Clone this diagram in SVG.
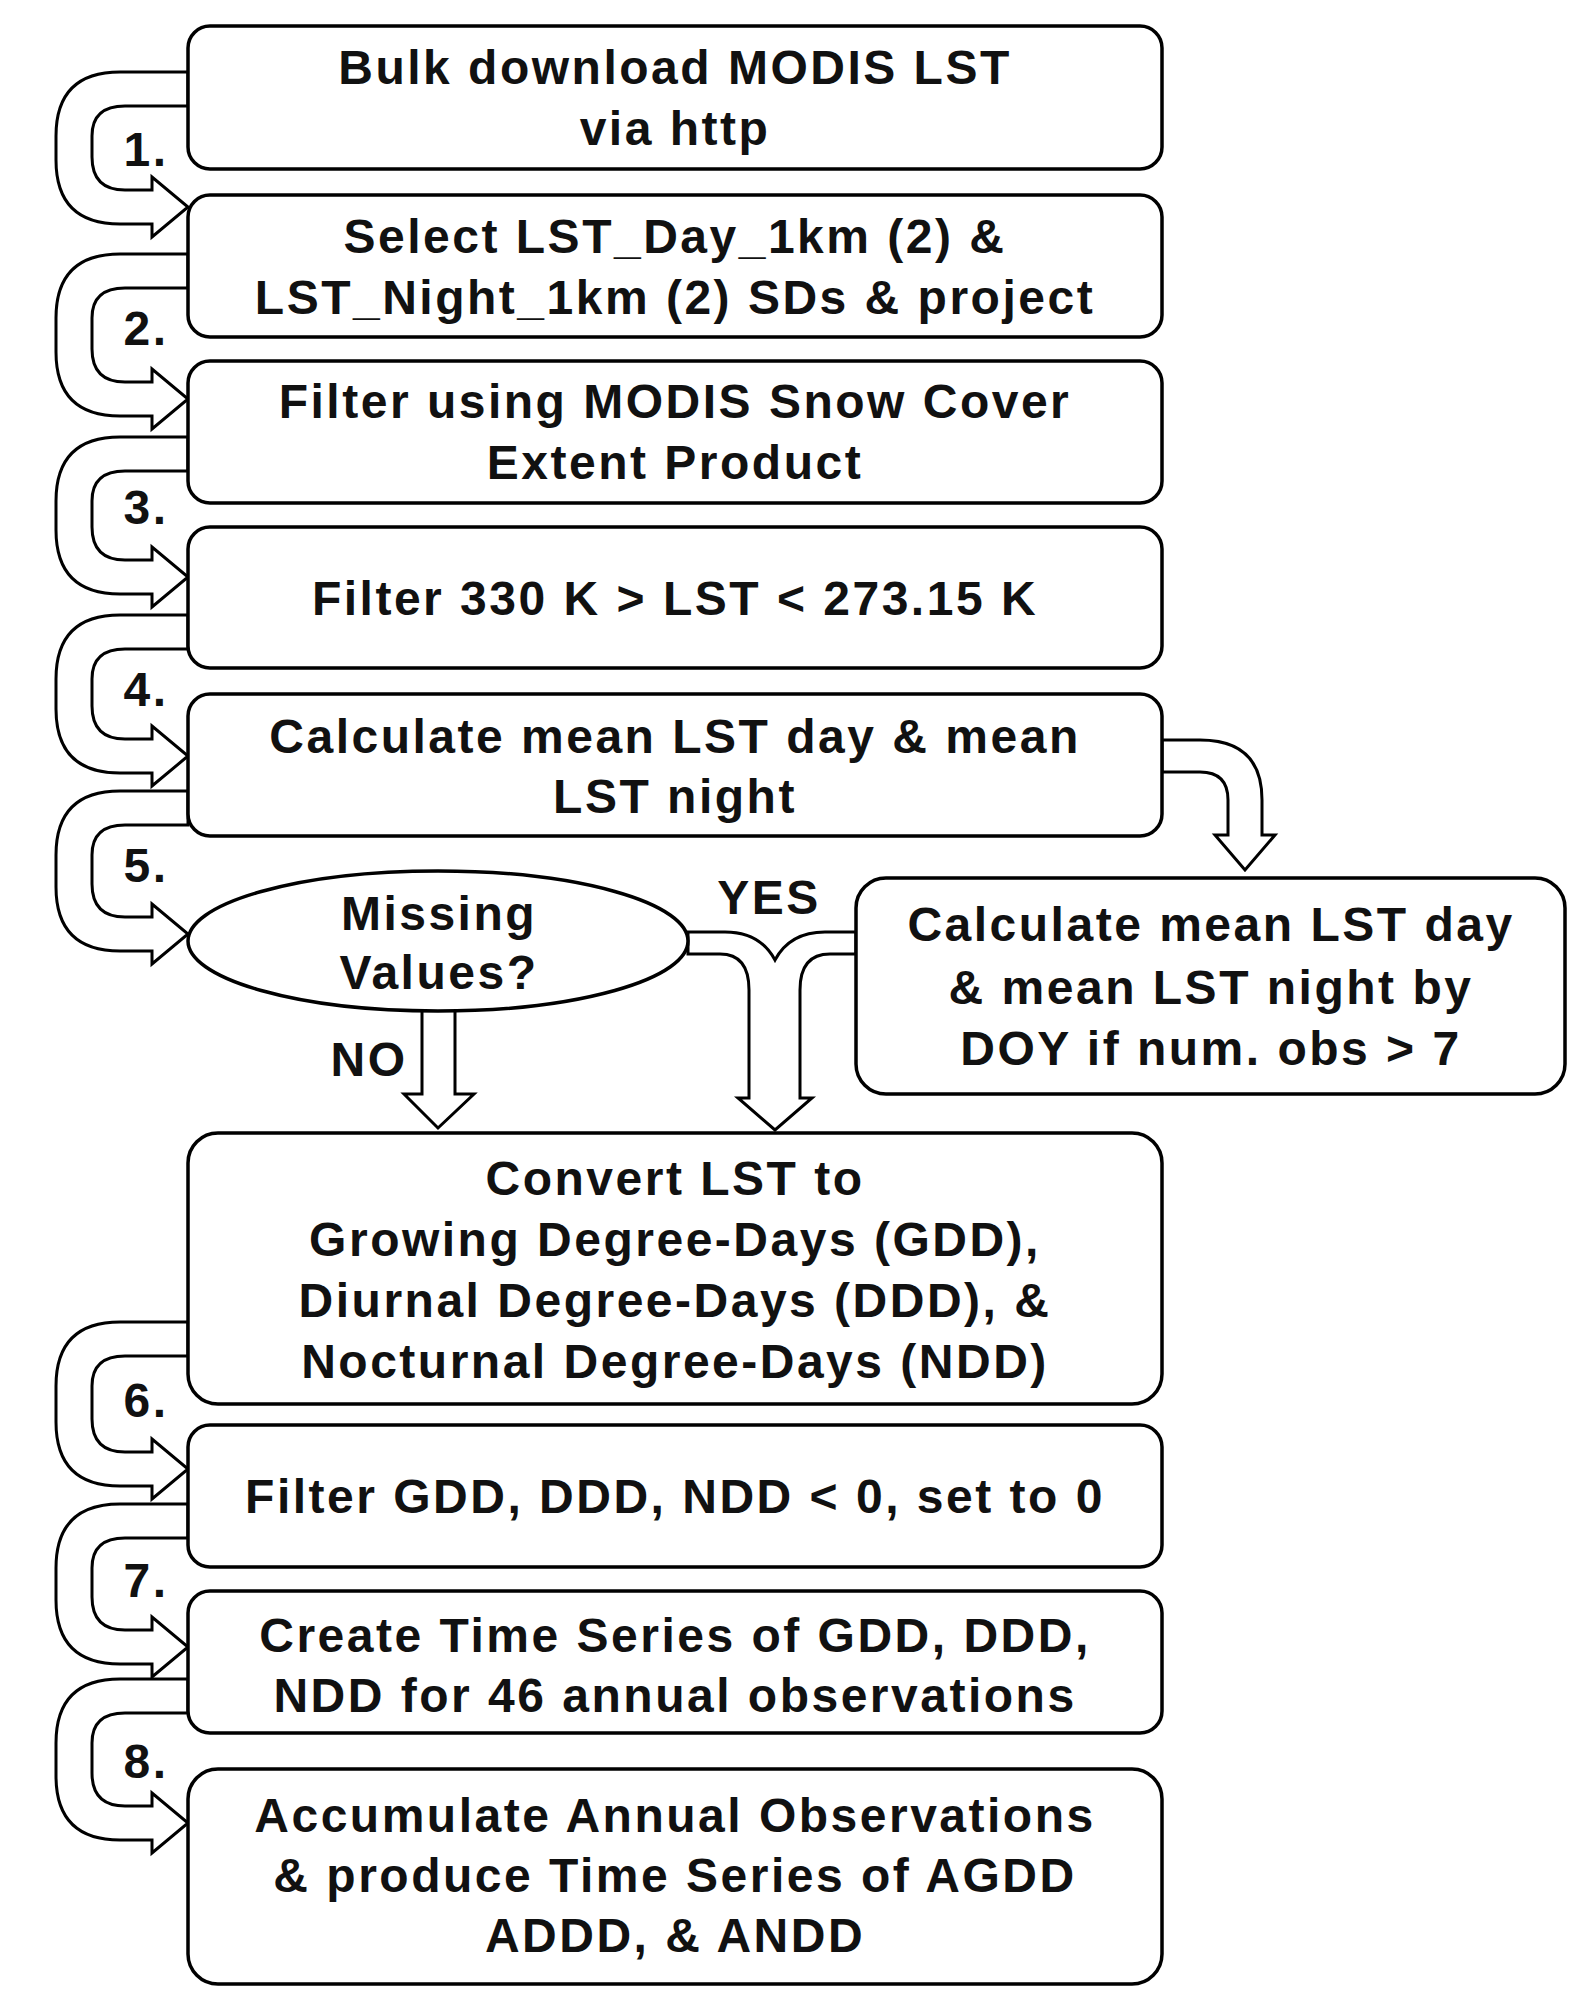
<svg xmlns="http://www.w3.org/2000/svg" width="1588" height="2010" viewBox="0 0 1588 2010">
<style>
.b{fill:#fff;stroke:#000;stroke-width:3.5}
.a{fill:#fff;stroke:#000;stroke-width:3;stroke-linejoin:miter}
text{font-family:"Liberation Sans",Arial,sans-serif;font-weight:bold;font-size:48px;letter-spacing:2.5px;text-anchor:middle;fill:#111}
</style>
<rect width="1588" height="2010" fill="#fff"/>
<g id="connectors">
<path class="a" d="M188,72 L120,72 Q56,72 56,136 L56,160 Q56,224 120,224 L152,224 L152,237 L188,207 L152,177 L152,190 L125,190 Q92,190 92,157 L92,136 Q92,106 125,106 L188,106 Z"/>
<path class="a" d="M188,254 L120,254 Q56,254 56,318 L56,352 Q56,416 120,416 L152,416 L152,429 L188,399 L152,369 L152,382 L125,382 Q92,382 92,349 L92,318 Q92,288 125,288 L188,288 Z"/>
<path class="a" d="M188,437 L120,437 Q56,437 56,501 L56,530 Q56,594 120,594 L152,594 L152,607 L188,577 L152,547 L152,560 L125,560 Q92,560 92,527 L92,501 Q92,471 125,471 L188,471 Z"/>
<path class="a" d="M188,615 L120,615 Q56,615 56,679 L56,709 Q56,773 120,773 L152,773 L152,786 L188,756 L152,726 L152,739 L125,739 Q92,739 92,706 L92,679 Q92,649 125,649 L188,649 Z"/>
<path class="a" d="M188,791 L120,791 Q56,791 56,855 L56,887 Q56,951 120,951 L152,951 L152,964 L188,934 L152,904 L152,917 L125,917 Q92,917 92,884 L92,855 Q92,825 125,825 L188,825 Z"/>
<path class="a" d="M188,1322 L120,1322 Q56,1322 56,1386 L56,1422 Q56,1486 120,1486 L152,1486 L152,1499 L188,1469 L152,1439 L152,1452 L125,1452 Q92,1452 92,1419 L92,1386 Q92,1356 125,1356 L188,1356 Z"/>
<path class="a" d="M188,1504 L120,1504 Q56,1504 56,1568 L56,1600 Q56,1664 120,1664 L152,1664 L152,1677 L188,1647 L152,1617 L152,1630 L125,1630 Q92,1630 92,1597 L92,1568 Q92,1538 125,1538 L188,1538 Z"/>
<path class="a" d="M188,1679 L120,1679 Q56,1679 56,1743 L56,1776 Q56,1840 120,1840 L152,1840 L152,1853 L188,1823 L152,1793 L152,1806 L125,1806 Q92,1806 92,1773 L92,1743 Q92,1713 125,1713 L188,1713 Z"/>
<path class="a" d="M1162,740 L1200,740 Q1262,740 1262,800 L1262,835 L1275,835 L1245,870 L1215,835 L1228,835 L1228,800 Q1228,772 1200,772 L1162,772 Z"/>
<path class="a" d="M688,932 L725,932 Q760,932 775,960 Q790,932 825,932 L856,932 L856,954 L830,954 Q800,954 800,990 L800,1098 L812,1098 L775,1130 L738,1098 L749,1098 L749,990 Q749,954 720,954 L688,954 Z"/>
<path class="a" d="M422,1008 L455,1008 L455,1094 L474,1094 L438,1128 L404,1094 L422,1094 Z"/>
</g>
<g id="n1"><rect class="b" x="188" y="26" width="974" height="143" rx="22"/><text x="675" y="84">Bulk download MODIS LST</text><text x="675" y="145">via http</text></g>
<g id="n2"><rect class="b" x="188" y="195" width="974" height="142" rx="22"/><text x="675" y="253">Select LST_Day_1km (2) &amp;</text><text x="675" y="314">LST_Night_1km (2) SDs &amp; project</text></g>
<g id="n3"><rect class="b" x="188" y="361" width="974" height="142" rx="22"/><text x="675" y="418">Filter using MODIS Snow Cover</text><text x="675" y="479">Extent Product</text></g>
<g id="n4"><rect class="b" x="188" y="527" width="974" height="141" rx="22"/><text x="675" y="615">Filter 330 K &gt; LST &lt; 273.15 K</text></g>
<g id="n5"><rect class="b" x="188" y="694" width="974" height="142" rx="22"/><text x="675" y="753">Calculate mean LST day &amp; mean</text><text x="675" y="813">LST night</text></g>
<g id="n6"><ellipse class="b" cx="438" cy="941" rx="250" ry="70"/><text x="439" y="930">Missing</text><text x="439" y="989">Values?</text></g>
<g id="n7"><rect class="b" x="856" y="878" width="709" height="216" rx="30"/><text x="1211" y="941">Calculate mean LST day</text><text x="1211" y="1004">&amp; mean LST night  by</text><text x="1211" y="1065">DOY if  num. obs &gt; 7</text></g>
<g id="n8"><rect class="b" x="188" y="1133" width="974" height="271" rx="30"/><text x="675" y="1195">Convert LST to</text><text x="675" y="1256">Growing Degree-Days (GDD),</text><text x="675" y="1317">Diurnal Degree-Days (DDD), &amp;</text><text x="675" y="1378">Nocturnal Degree-Days (NDD)</text></g>
<g id="n9"><rect class="b" x="188" y="1425" width="974" height="142" rx="22"/><text x="675" y="1513">Filter GDD, DDD, NDD &lt; 0, set to 0</text></g>
<g id="n10"><rect class="b" x="188" y="1591" width="974" height="142" rx="22"/><text x="675" y="1652">Create Time Series of GDD, DDD,</text><text x="675" y="1712">NDD for 46 annual observations</text></g>
<g id="n11"><rect class="b" x="188" y="1769" width="974" height="215" rx="30"/><text x="675" y="1832">Accumulate Annual Observations</text><text x="675" y="1892">&amp; produce Time Series of AGDD</text><text x="675" y="1952">ADDD, &amp; ANDD</text></g>
<g id="labels">
<text x="146" y="166">1.</text><text x="146" y="345">2.</text><text x="146" y="524">3.</text><text x="146" y="706">4.</text><text x="146" y="882">5.</text><text x="146" y="1417">6.</text><text x="146" y="1597">7.</text><text x="146" y="1778">8.</text>
<text x="769" y="914">YES</text><text x="369" y="1076">NO</text>
</g>
</svg>
